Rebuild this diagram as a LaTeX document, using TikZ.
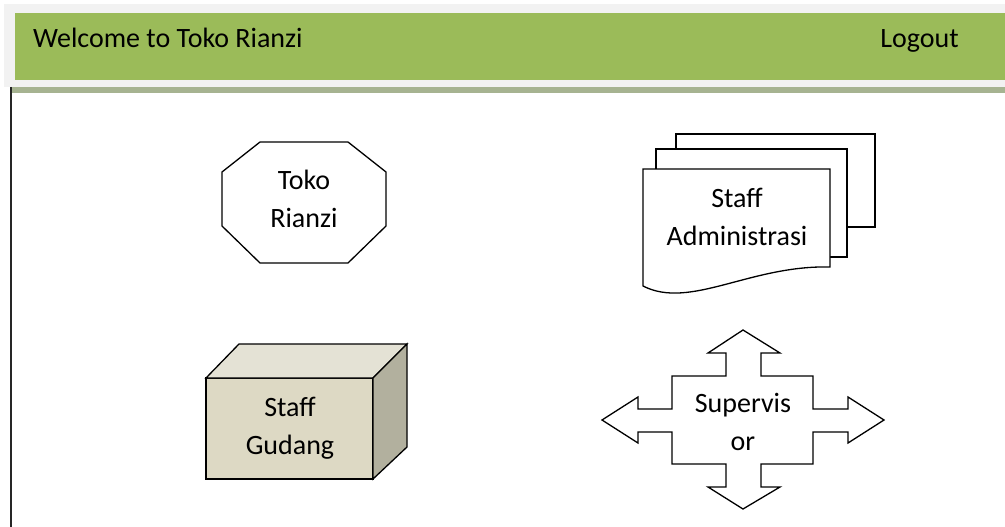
\documentclass[tikz,border=0pt]{standalone}
\usepackage{fontspec}
\setmainfont{Carlito}
\definecolor{hdrgray}{RGB}{242,242,242}
\definecolor{hdrgreen}{RGB}{155,187,89}
\definecolor{hdrband}{RGB}{166,179,145}
\definecolor{cubefront}{RGB}{221,217,196}
\definecolor{cubetop}{RGB}{228,226,213}
\definecolor{cubeside}{RGB}{178,176,158}
\begin{document}
\begin{tikzpicture}[x=1pt,y=-1pt,
  txt/.style={font=\fontsize{28}{37.5}\selectfont, align=center, inner sep=0pt, text=black},
  shapeline/.style={draw=black, line width=1.3pt, line join=miter}]
\useasboundingbox (0,0) rectangle (1005,527);
\fill[white] (0,0) rectangle (1005,527);
% header
\fill[hdrgray] (4,4) rectangle (1005,87);
\fill[hdrgreen] (15,13) rectangle (1005,80);
\fill[hdrband] (11,87) rectangle (1005,93);
\draw[line width=1.6pt, black!85] (11,87) -- (11,527);
\node[txt, anchor=base west] (welcome) at (33,48) {Welcome to Toko Rianzi};
\node[txt, anchor=base east] (logout) at (959,48) {Logout};
% octagon
\draw[shapeline, fill=white] (260,142) -- (348,142) -- (386,172) -- (386,226) -- (348,263) -- (260,263) -- (222,226) -- (222,172) -- cycle;
\node[txt] (toko) at (304,199) {Toko\\Rianzi};
% documents
\draw[shapeline, fill=white] (676,134) rectangle (875,227);
\draw[shapeline, fill=white] (656,149) rectangle (847,257);
\draw[shapeline, fill=white] (643,169) -- (830,169) -- (830,267) .. controls (750,265) and (690,310) .. (643,286) -- cycle;
\node[txt] (admin) at (737,217) {Staff\\Administrasi};
% cube
\draw[shapeline, fill=cubefront] (206,378) rectangle (373,479);
\draw[shapeline, fill=cubetop] (206,378) -- (239,344) -- (407,344) -- (373,378) -- cycle;
\draw[shapeline, fill=cubeside] (373,378) -- (407,344) -- (407,447) -- (373,479) -- cycle;
\node[txt] (gudang) at (290,428) {Staff\\Gudang};
% quad arrow
\draw[shapeline, fill=white] (743,330) -- (780,353) -- (761,353) -- (761,376) -- (813,376) -- (813,409) -- (848,409) -- (848,397) -- (884,420) -- (848,443) -- (848,432) -- (813,432) -- (813,464) -- (761,464) -- (761,487) -- (780,487) -- (743,509) -- (708,487) -- (726,487) -- (726,464) -- (672,464) -- (672,432) -- (638,432) -- (638,443) -- (602,420) -- (638,397) -- (638,409) -- (672,409) -- (672,376) -- (726,376) -- (726,353) -- (708,353) -- cycle;
\node[txt] (super) at (743,422) {Supervis\\or};
\end{tikzpicture}
\end{document}
